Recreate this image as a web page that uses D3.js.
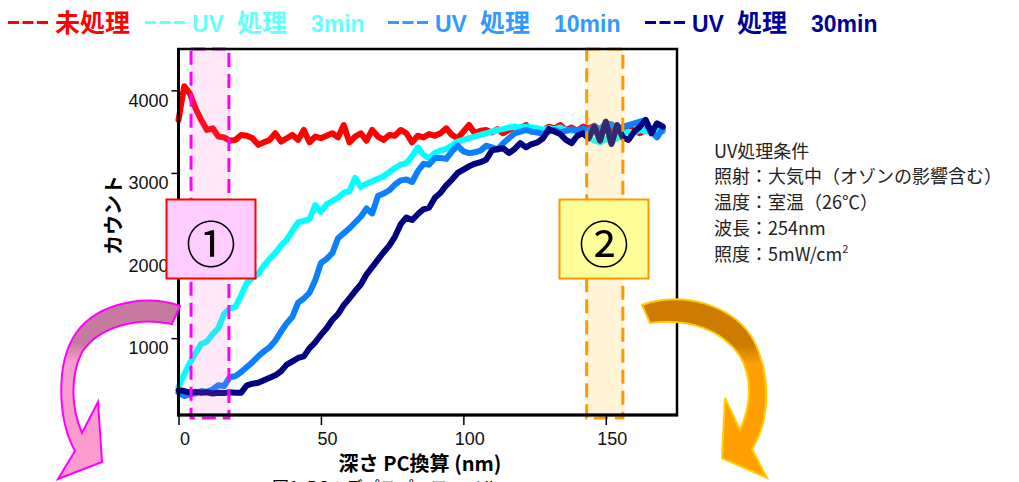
<!DOCTYPE html>
<html><head><meta charset="utf-8">
<script src="https://cdn.jsdelivr.net/npm/d3@7"></script>
<style>
body{margin:0;background:#fff;}
svg{display:block;}
text{font-family:"Liberation Sans","Noto Sans CJK JP",sans-serif;}
.cjk{font-family:"Noto Sans CJK JP","Liberation Sans",sans-serif;}
</style>
</head><body>
<svg id="c" width="1019" height="482"></svg>
<script>
// ---- data (depth in nm, counts) ----
const depth = [0,2,4,6,8,10,12,14,16,18,20,22,24,26,28,30,32,34,36,38,40,42,44,46,48,50,52,54,56,58,60,62,64,66,68,70,72,74,76,78,80,82,84,86,88,90,92,94,96,98,100,102,104,106,108,110,112,114,116,118,120,122,124,126,128,130,132,134,136,138,140,142,144,146,148,150,152,154,156,158,160,162,164,166,168,170];
const untreated = [3640,4050,3960,3780,3640,3520,3540,3440,3430,3390,3400,3460,3450,3420,3340,3370,3400,3480,3380,3420,3460,3400,3520,3370,3440,3420,3450,3480,3430,3580,3370,3440,3480,3390,3520,3440,3400,3460,3450,3520,3480,3370,3450,3430,3470,3450,3480,3540,3460,3420,3500,3580,3480,3510,3520,3490,3530,3480,3520,3560,3540,3580,3500,3530,3510,3560,3540,3580,3520,3550,3510,3560,3540,3570,3510,3560,3530,3520,3500,3540,3510,3480,3520,3500,3530,3510];
const uv3min = [410,560,700,820,930,960,1050,1120,1290,1360,1380,1520,1670,1730,1780,1880,1960,2030,2120,2190,2300,2400,2420,2440,2610,2530,2620,2660,2700,2760,2780,2940,2830,2870,2900,2930,2960,3010,3060,3100,3120,3200,3310,3220,3180,3240,3270,3290,3330,3380,3400,3420,3440,3460,3480,3500,3520,3530,3550,3560,3550,3560,3550,3540,3520,3540,3530,3550,3520,3510,3500,3470,3430,3390,3370,3410,3380,3420,3470,3500,3490,3520,3500,3510,3530,3520];
const uv10min = [340,300,320,330,360,350,380,430,420,530,540,590,650,710,780,840,890,970,1080,1180,1260,1430,1480,1550,1700,1910,1960,2030,2210,2270,2330,2400,2470,2570,2510,2720,2750,2790,2860,2910,2920,2890,3020,3110,3100,3180,3180,3170,3260,3330,3260,3240,3250,3270,3330,3310,3280,3360,3420,3480,3500,3520,3500,3490,3470,3500,3520,3490,3510,3530,3510,3540,3500,3560,3530,3600,3590,3530,3560,3580,3600,3620,3640,3500,3430,3540];
const uv30min = [370,360,340,350,340,345,330,340,335,345,340,340,430,450,460,490,520,550,600,680,720,760,780,880,950,1040,1120,1220,1290,1400,1480,1570,1650,1770,1860,1950,2040,2120,2230,2380,2460,2430,2500,2560,2580,2700,2760,2850,2920,3000,3040,3080,3110,3130,3160,3270,3290,3300,3240,3290,3360,3310,3350,3370,3420,3530,3500,3470,3400,3360,3450,3480,3420,3560,3390,3620,3350,3580,3430,3400,3500,3560,3640,3480,3600,3560];

const seriesLabels = ["未処理","UV 処理","UV 処理","UV 処理"];
const seriesTimes = ["","3min","10min","30min"];
const xTickLabels = [0,50,100,150];
const yTickLabels = [1000,2000,3000,4000];
const regions = [[4.4,17.7],[143.3,156]];
const regionLabels = ["①","②"];
const conditions = ["UV処理条件","照射：大気中（オゾンの影響含む）","温度：室温（26℃）","波長：254nm","照度：5mW/cm"];
const xTitle = "深さ PC換算 (nm)";
const yTitle = "カウント";
const caption = "図1. PCのデプスプロファイル";

// ---- styles/layout ----
const lineColors = ["#ff0000","#00ffff","#0a80ff","#000080"];
const legendColors = ["#ff0000","#66ffff","#3399ff","#000099"];
const legendX = [8,145,388,645];
const allSeries = [untreated,uv3min,uv10min,uv30min];

const svg = d3.select("#c");
const x = d3.scaleLinear().domain([0,175]).range([178.5,677]);
const y = d3.scaleLinear().domain([70,4500]).range([415,49]);

// defs
const defs = svg.append("defs");
const gp = defs.append("linearGradient").attr("id","gPink").attr("gradientUnits","userSpaceOnUse")
  .attr("x1",0).attr("y1",300).attr("x2",0).attr("y2",480);
gp.append("stop").attr("offset",0).attr("stop-color","#c77aa0");
gp.append("stop").attr("offset",0.24).attr("stop-color","#c77aa0");
gp.append("stop").attr("offset",0.34).attr("stop-color","#f79ccb");
gp.append("stop").attr("offset",1).attr("stop-color","#ff9ccf");
const go = defs.append("linearGradient").attr("id","gOrange").attr("gradientUnits","userSpaceOnUse")
  .attr("x1",0).attr("y1",300).attr("x2",0).attr("y2",480);
go.append("stop").attr("offset",0).attr("stop-color","#cc7a00");
go.append("stop").attr("offset",0.25).attr("stop-color","#cc7a00");
go.append("stop").attr("offset",0.36).attr("stop-color","#ff9f00");
go.append("stop").attr("offset",1).attr("stop-color","#ffa000");

// lines
const line = d3.line().x((d,i)=>x(depth[i])).y(d=>y(d));
allSeries.forEach((s,k)=>{
  svg.append("path").datum(s).attr("d",line).attr("fill","none")
    .attr("stroke",lineColors[k]).attr("stroke-width",6)
    .attr("stroke-linejoin","round").attr("stroke-linecap","round");
});

// highlight bands
const bandFill = ["#ff66cc","#ffcc33"];
const bandOpacity = [0.15,0.2];
const bandStroke = ["#ff00ff","#ff9900"];
regions.forEach((r,k)=>{
  svg.append("rect").attr("x",x(r[0])).attr("y",49).attr("width",x(r[1])-x(r[0])).attr("height",369)
    .attr("fill",bandFill[k]).attr("fill-opacity",bandOpacity[k])
    .attr("stroke",bandStroke[k]).attr("stroke-width",3).attr("stroke-dasharray","14,7");
});

// axes
const gx = svg.append("g").attr("transform","translate(0,415)");
gx.call(d3.axisBottom(x).tickValues(d3.range(0,171,10)).tickSize(7).tickFormat(""));
gx.call(d3.axisBottom(x).tickValues(xTickLabels).tickSize(10).tickPadding(7).tickFormat(d3.format("d")));
const gy = svg.append("g").attr("transform","translate(178.5,0)");
gy.call(d3.axisLeft(y).tickValues(d3.range(100,4501,100)).tickSize(4).tickFormat(""));
gy.call(d3.axisLeft(y).tickValues(d3.range(500,4501,500)).tickSize(7).tickFormat(""));
gy.call(d3.axisLeft(y).tickValues(yTickLabels).tickSize(7).tickPadding(3).tickFormat(d3.format("d")));
svg.selectAll(".domain").remove();
svg.selectAll(".tick line").attr("stroke","#000").attr("stroke-width",1.5);
gx.selectAll("text").attr("font-size",18).attr("fill","#111").attr("dx",6)
  .style("font-family","Liberation Sans");
gy.selectAll("text").attr("font-size",18).attr("fill","#111").attr("y",10)
  .style("font-family","Liberation Sans");

// frame
svg.append("rect").attr("x",178.5).attr("y",49).attr("width",677-178.5).attr("height",415-49)
  .attr("fill","none").attr("stroke","#000").attr("stroke-width",2.5);
svg.append("line").attr("x1",178.5).attr("x2",178.5).attr("y1",48).attr("y2",416).attr("stroke","#000").attr("stroke-width",3);
svg.append("line").attr("x1",177).attr("x2",678).attr("y1",415).attr("y2",415).attr("stroke","#000").attr("stroke-width",3);

// region label boxes
const boxFill = ["#ffccff","#ffff99"];
const boxStroke = ["#ff0000","#ff9900"];
const boxX = [166.5,559.5];
regions.forEach((r,k)=>{
  const bx = boxX[k];
  svg.append("rect").attr("x",bx).attr("y",199.5).attr("width",89).attr("height",79)
    .attr("fill",boxFill[k]).attr("stroke",boxStroke[k]).attr("stroke-width",2);
  svg.append("text").attr("class","cjk").attr("x",bx+44.5).attr("y",241)
    .attr("text-anchor","middle").attr("dominant-baseline","central")
    .attr("font-size",50).attr("fill","#000").text(regionLabels[k]);
});

// curved arrows
svg.append("path")
  .attr("d","M180,306 C150,295 100,300 76,333 C55,364 58,420 75,451 L58,479 L102,462 L98,402 L82,433 C71,408 70,376 82,352 C98,328 135,316 172,324 Z")
  .attr("fill","url(#gPink)").attr("stroke","#ff00ff").attr("stroke-width",2);
svg.append("path")
  .attr("d","M642,305 C682,290 736,305 755,343 C771,378 770,420 752,449 L767,478 L722,458 L725,398 L740,430 C752,404 752,376 740,356 C722,330 690,318 650,323 Z")
  .attr("fill","url(#gOrange)").attr("stroke","#ffcc00").attr("stroke-width",2);

// legend
seriesLabels.forEach((lab,k)=>{
  const lx = legendX[k];
  svg.append("line").attr("x1",lx).attr("x2",lx+40).attr("y1",22.5).attr("y2",22.5)
    .attr("stroke",legendColors[k]).attr("stroke-width",3).attr("stroke-dasharray","11,3.5");
  const t = svg.append("text").attr("x",lx+47).attr("y",32).attr("fill",legendColors[k]).attr("font-weight","bold");
  if (k===0) {
    t.append("tspan").attr("class","cjk").attr("font-size",25).text(lab);
  } else {
    const parts = lab.split(" ");
    t.append("tspan").attr("font-size",23).text(parts[0]);
    t.append("tspan").attr("class","cjk").attr("font-size",25).attr("dx",13).text(parts[1]);
    t.append("tspan").attr("font-size",23).attr("dx",24).text(seriesTimes[k]);
  }
});

// axis titles
svg.append("text").attr("class","cjk").attr("transform","translate(121,215) rotate(-90)")
  .attr("text-anchor","middle").attr("font-size",20).attr("font-weight","bold").attr("fill","#000").text(yTitle);
svg.append("text").attr("class","cjk").attr("x",420).attr("y",471)
  .attr("text-anchor","middle").attr("font-size",20).attr("font-weight","bold").attr("fill","#000").text(xTitle);
svg.append("text").attr("class","cjk").attr("x",272).attr("y",494)
  .attr("font-size",17).attr("fill","#000").text(caption);

// conditions text
const condY = [158,183,209,235,261];
conditions.forEach((c,i)=>{
  const t = svg.append("text").attr("class","cjk").attr("x",714).attr("y",condY[i])
    .attr("font-size",18).attr("fill","#222").text(c);
  if (i===conditions.length-1) t.append("tspan").attr("font-size",11).attr("dy",-8).text("2");
});
</script>
</body></html>
